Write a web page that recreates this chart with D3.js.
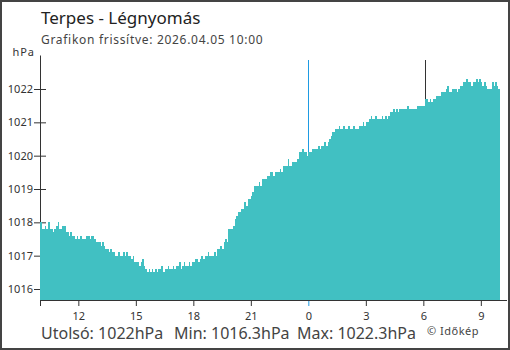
<!DOCTYPE html>
<html>
<head>
<meta charset="utf-8">
<script src="https://cdn.jsdelivr.net/npm/d3@7"></script>
<style>
  body { margin: 0; background: #fff; }
  svg { display: block; font-family: "Noto Sans", sans-serif; }
</style>
</head>
<body>
<svg id="chart"></svg>
<script>
// size
const width = 510;
const height = 350;
const margin = { top: 55, right: 10, bottom: 50, left: 40 };
const plotRight = 500;

// texts
const title = "Terpes - Légnyomás";
const subtitle = "Grafikon frissítve: 2026.04.05 10:00";
const unit = "hPa";
const summary = ["Utolsó: 1022hPa", "Min: 1016.3hPa", "Max: 1022.3hPa"];
const credit = "© Időkép";

// time range, 5 minute readings
const startTime = "2026-04-04 10:00";
const endTime = "2026-04-05 10:00";
const stepMinutes = 5;

// ticks
const yTicks = [1016, 1017, 1018, 1019, 1020, 1021, 1022];
const xTicks = ["2026-04-04 10:00", "2026-04-04 12:00", "2026-04-04 15:00", "2026-04-04 18:00",
                "2026-04-04 21:00", "2026-04-05 00:00", "2026-04-05 03:00", "2026-04-05 06:00",
                "2026-04-05 09:00"];
const yDomain = [1015.67, 1023.02];

// vertical markers
const markers = [
    { time: "2026-04-05 00:00", color: "#1e9be3" },
    { time: "2026-04-05 06:05", color: "#333333" }
];

// pressure readings (hPa), one row per hour
const pressure = [
    1018.0, 1017.8, 1017.8, 1017.9, 1017.8, 1018.0, 1017.8, 1017.8, 1017.7, 1017.8, 1017.9, 1018.0, // 10
    1017.8, 1017.8, 1017.9, 1017.9, 1017.7, 1017.7, 1017.6, 1017.7, 1017.6, 1017.6, 1017.5, 1017.6, // 11
    1017.5, 1017.6, 1017.5, 1017.5, 1017.5, 1017.6, 1017.6, 1017.5, 1017.6, 1017.6, 1017.5, 1017.4, // 12
    1017.4, 1017.4, 1017.3, 1017.4, 1017.3, 1017.2, 1017.2, 1017.1, 1017.2, 1017.1, 1017.1, 1017.0, // 13
    1017.0, 1017.1, 1017.0, 1017.0, 1017.1, 1017.0, 1017.1, 1017.0, 1017.0, 1016.9, 1017.0, 1016.8, // 14
    1016.8, 1016.8, 1016.7, 1016.8, 1016.9, 1016.7, 1016.6, 1016.5, 1016.6, 1016.5, 1016.6, 1016.5, // 15
    1016.6, 1016.5, 1016.6, 1016.6, 1016.7, 1016.5, 1016.6, 1016.6, 1016.7, 1016.6, 1016.6, 1016.7, // 16
    1016.6, 1016.7, 1016.7, 1016.8, 1016.6, 1016.7, 1016.8, 1016.7, 1016.7, 1016.8, 1016.7, 1016.8, // 17
    1016.8, 1016.9, 1016.9, 1016.8, 1016.9, 1017.0, 1016.9, 1017.0, 1017.0, 1017.1, 1017.0, 1017.0, // 18
    1017.0, 1017.1, 1017.0, 1017.2, 1017.2, 1017.3, 1017.2, 1017.4, 1017.5, 1017.4, 1017.8, 1017.8, // 19
    1017.8, 1017.9, 1018.1, 1018.2, 1018.3, 1018.3, 1018.4, 1018.4, 1018.6, 1018.5, 1018.7, 1018.7, // 20
    1018.8, 1018.9, 1019.1, 1019.1, 1019.1, 1019.2, 1019.1, 1019.3, 1019.3, 1019.3, 1019.4, 1019.4, // 21
    1019.5, 1019.5, 1019.4, 1019.5, 1019.5, 1019.5, 1019.6, 1019.5, 1019.7, 1019.7, 1019.7, 1019.9, // 22
    1019.7, 1019.7, 1019.8, 1019.8, 1019.8, 1019.9, 1020.1, 1020.1, 1020.2, 1020.1, 1020.1, 1020.0, // 23
    1020.1, 1020.1, 1020.2, 1020.2, 1020.2, 1020.2, 1020.3, 1020.2, 1020.3, 1020.3, 1020.4, 1020.3, // 00
    1020.4, 1020.5, 1020.6, 1020.7, 1020.7, 1020.8, 1020.8, 1020.9, 1020.8, 1020.8, 1020.9, 1020.8, // 01
    1020.8, 1020.9, 1020.8, 1020.8, 1020.9, 1020.8, 1020.8, 1020.8, 1020.9, 1020.9, 1021.0, 1020.9, // 02
    1021.0, 1021.0, 1021.1, 1021.2, 1021.1, 1021.1, 1021.2, 1021.1, 1021.1, 1021.1, 1021.2, 1021.1, // 03
    1021.2, 1021.1, 1021.2, 1021.3, 1021.3, 1021.4, 1021.3, 1021.4, 1021.3, 1021.4, 1021.4, 1021.4, // 04
    1021.4, 1021.4, 1021.5, 1021.4, 1021.4, 1021.4, 1021.4, 1021.4, 1021.5, 1021.5, 1021.5, 1021.5, // 05
    1021.5, 1021.7, 1021.7, 1021.6, 1021.7, 1021.6, 1021.7, 1021.7, 1021.8, 1021.8, 1021.8, 1021.9, // 06
    1021.9, 1021.9, 1022.0, 1022.1, 1021.9, 1021.9, 1022.0, 1022.0, 1022.0, 1021.9, 1022.0, 1022.1, // 07
    1022.1, 1022.2, 1022.2, 1022.3, 1022.2, 1022.2, 1022.1, 1022.2, 1022.2, 1022.3, 1022.2, 1022.3, // 08
    1022.2, 1022.1, 1022.2, 1022.1, 1022.0, 1022.0, 1022.0, 1022.2, 1022.1, 1022.2, 1022.1, 1022.0  // 09
];

const parseTime = d3.timeParse("%Y-%m-%d %H:%M");
const t0 = parseTime(startTime);
const readings = pressure.map((v, i) => ({
    start: d3.timeMinute.offset(t0, i * stepMinutes),
    end: d3.timeMinute.offset(t0, (i + 1) * stepMinutes),
    value: v
}));

const bottom = height - margin.bottom;

const x = d3.scaleTime()
    .domain([t0, parseTime(endTime)])
    .range([margin.left, plotRight]);
const y = d3.scaleLinear()
    .domain(yDomain)
    .range([bottom, margin.top]);

const svg = d3.select("#chart")
    .attr("width", width)
    .attr("height", height);

// frame
svg.append("rect")
    .attr("x", 1).attr("y", 1)
    .attr("width", width - 2).attr("height", height - 2)
    .attr("fill", "none")
    .attr("stroke", "#444")
    .attr("stroke-width", 2);

// titles
svg.append("text")
    .attr("x", 41).attr("y", 24)
    .attr("font-size", 17)
    .attr("fill", "#222")
    .text(title);
svg.append("text")
    .attr("x", 41).attr("y", 44)
    .attr("font-size", 12)
    .attr("fill", "#444")
    .attr("letter-spacing", 0.7)
    .text(subtitle);
svg.append("text")
    .attr("x", 35).attr("y", 56)
    .attr("text-anchor", "end")
    .attr("font-size", 11)
    .attr("fill", "#333")
    .attr("letter-spacing", 1)
    .text(unit);

// y axis
const gy = svg.append("g")
    .attr("transform", `translate(${margin.left},0)`)
    .call(d3.axisLeft(y).tickValues(yTicks).tickSize(6).tickPadding(1).tickSizeOuter(0).tickFormat(d3.format("d")));
gy.selectAll(".tick line").attr("x1", 6).attr("stroke", "#333");
gy.select(".domain").attr("stroke", "#333");
gy.selectAll(".tick text").attr("font-size", 11).attr("fill", "#333").attr("font-family", "Noto Sans");

// x axis
const gx = svg.append("g")
    .attr("transform", `translate(0,${bottom})`)
    .call(d3.axisBottom(x)
        .tickValues(xTicks.map(parseTime))
        .tickSize(6).tickPadding(6).tickSizeOuter(0)
        .tickFormat((d, i) => i === 0 ? "" : d3.timeFormat("%-H")(d)));
gx.select(".domain").remove();
gx.append("line")
    .attr("x1", margin.left).attr("x2", width - 3)
    .attr("y1", 0.5).attr("y2", 0.5)
    .attr("stroke", "#333");
gx.selectAll(".tick line").attr("stroke", "#333");
gx.selectAll(".tick")
    .filter(d => +d === +parseTime(markers[0].time))
    .select("line").attr("stroke", markers[0].color);
gx.selectAll(".tick text").attr("font-size", 11).attr("fill", "#333").attr("font-family", "Noto Sans");

// markers
svg.append("g")
    .selectAll("line")
    .data(markers)
    .join("line")
    .attr("x1", d => Math.round(x(parseTime(d.time))) + 0.5)
    .attr("x2", d => Math.round(x(parseTime(d.time))) + 0.5)
    .attr("y1", margin.top + 5)
    .attr("y2", bottom)
    .attr("stroke", d => d.color)
    .attr("stroke-width", 1);

// bars
svg.append("g")
    .attr("shape-rendering", "crispEdges")
    .selectAll("rect")
    .data(readings)
    .join("rect")
    .attr("x", d => x(d.start))
    .attr("width", d => x(d.end) - x(d.start))
    .attr("y", d => y(d.value))
    .attr("height", d => bottom - y(d.value))
    .attr("fill", "#41c0c2");

// summary line
const sumX = [41, 174, 297];
svg.append("g")
    .selectAll("text")
    .data(summary)
    .join("text")
    .attr("x", (d, i) => sumX[i])
    .attr("y", 339)
    .attr("font-size", 16)
    .attr("fill", "#444")
    .text(d => d);
svg.append("text")
    .attr("x", 427).attr("y", 335)
    .attr("font-size", 11)
    .attr("fill", "#444")
    .attr("letter-spacing", 0.5)
    .text(credit);
</script>
</body>
</html>
